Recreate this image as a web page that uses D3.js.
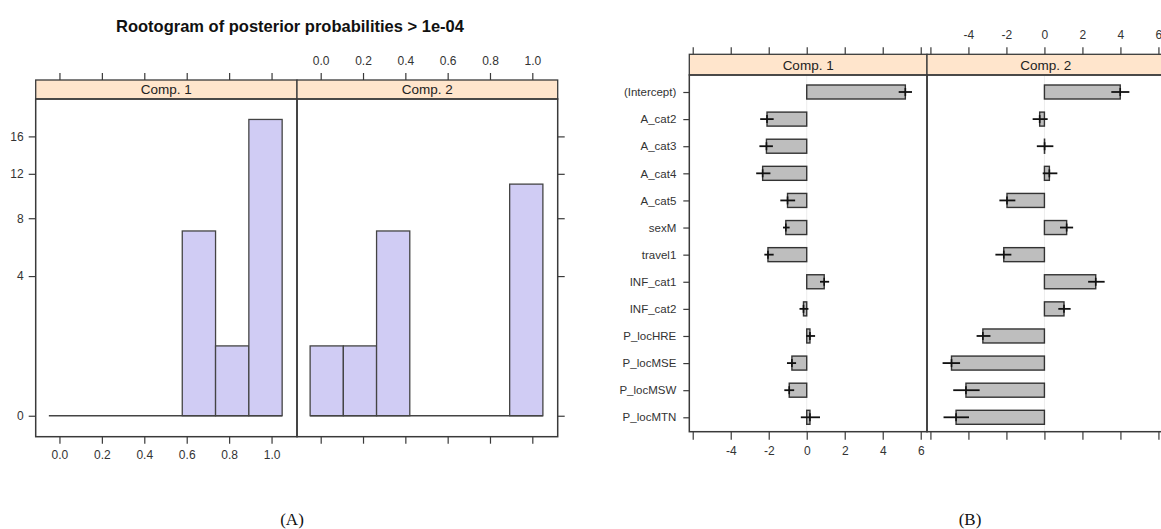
<!DOCTYPE html>
<html>
<head>
<meta charset="utf-8">
<script src="https://cdn.jsdelivr.net/npm/d3@7"></script>
<style>
  body { margin: 0; background: #fff; }
  text { font-family: "Liberation Sans", Arial, sans-serif; fill: #222; }
</style>
</head>
<body>
<script>
/*
 data : rootogram (A) and coefficient plot (B)
*/
var histBreaks = [-0.05, 0.107, 0.264, 0.421, 0.579, 0.736, 0.893, 1.05];
var countsComp1 = [0, 0, 0, 0, 7, 1, 18];
var countsComp2 = [1, 1, 7, 0, 0, 0, 11];
var probTicks = [0, 0.2, 0.4, 0.6, 0.8, 1.0];
var countTicks = [0, 4, 8, 12, 16];

var coefNames = ["(Intercept)", "A_cat2", "A_cat3", "A_cat4", "A_cat5", "sexM", "travel1",
                 "INF_cat1", "INF_cat2", "P_locHRE", "P_locMSE", "P_locMSW", "P_locMTN"];
var est1 = [5.19, -2.09, -2.12, -2.32, -1.01, -1.10, -2.04, 0.92, -0.17, 0.17, -0.78, -0.92, 0.17];
var lo1  = [4.84, -2.45, -2.49, -2.66, -1.39, -1.25, -2.23, 0.70, -0.38, -0.03, -1.04, -1.18, -0.31];
var hi1  = [5.54, -1.74, -1.78, -1.91, -0.61, -0.90, -1.74, 1.18, 0.09, 0.44, -0.56, -0.66, 0.70];
var est2 = [3.99, -0.25, 0.01, 0.26, -1.97, 1.17, -2.14, 2.70, 1.03, -3.24, -4.89, -4.13, -4.65];
var lo2  = [3.52, -0.62, -0.40, -0.09, -2.37, 0.82, -2.58, 2.30, 0.73, -3.57, -5.36, -4.80, -5.31];
var hi2  = [4.47, 0.17, 0.47, 0.68, -1.53, 1.51, -1.74, 3.17, 1.38, -2.84, -4.44, -3.41, -3.97];
var coefTicks = [-6, -4, -2, 0, 2, 4, 6];

var width = 1161,
    height = 529;

var svg = d3.select("body").append("svg")
    .attr("width", width)
    .attr("height", height)
    .style("display", "block");

svg.append("rect").attr("width", width).attr("height", height).attr("fill", "#fff");

var frameCol = "#3a3a3a";

function axis(g, gen, labels) {
  g.call(gen);
  g.select(".domain").remove();
  g.selectAll(".tick line").attr("stroke", frameCol).attr("stroke-width", 1.2);
  g.selectAll(".tick text").style("font-size", "12px").style("fill", "#333");
  if (!labels) g.selectAll(".tick text").remove();
}

/* ---------------- (A) rootogram ---------------- */
var aTop = 99, aBottom = 436.7, aStripTop = 80;
var xA = [
  d3.scaleLinear().domain([-0.112, 1.12]).range([35.7, 297]),
  d3.scaleLinear().domain([-0.112, 1.12]).range([297, 557.7])
];
var yA = d3.scaleSqrt().domain([-0.09, 20.57]).range([aBottom, aTop]);

svg.append("text")
    .attr("x", 290).attr("y", 32)
    .attr("text-anchor", "middle")
    .style("font-size", "16.5px").style("font-weight", "bold")
    .style("fill", "#111")
    .text("Rootogram of posterior probabilities > 1e-04");

[countsComp1, countsComp2].forEach(function(counts, i) {
  var x = xA[i];
  var bins = counts.map(function(c, j) { return {x0: histBreaks[j], x1: histBreaks[j + 1], n: c}; });
  var g = svg.append("g");
  g.selectAll("rect")
    .data(bins.filter(function(d) { return d.n > 0; }))
    .enter().append("rect")
      .attr("x", function(d) { return x(d.x0); })
      .attr("width", function(d) { return x(d.x1) - x(d.x0); })
      .attr("y", function(d) { return yA(d.n); })
      .attr("height", function(d) { return yA(0) - yA(d.n); })
      .attr("fill", "#d0ccf4")
      .attr("stroke", "#444")
      .attr("stroke-width", 1.3);
  // empty bins collapse onto the baseline
  g.append("line")
    .attr("x1", x(histBreaks[0])).attr("x2", x(histBreaks[histBreaks.length - 1]))
    .attr("y1", yA(0)).attr("y2", yA(0))
    .attr("stroke", "#444").attr("stroke-width", 1.3);

  // strip
  svg.append("rect")
    .attr("x", x.range()[0]).attr("y", aStripTop)
    .attr("width", x.range()[1] - x.range()[0]).attr("height", aTop - aStripTop)
    .attr("fill", "#ffe5cc").attr("stroke", frameCol).attr("stroke-width", 1.3);
  svg.append("text")
    .attr("x", (x.range()[0] + x.range()[1]) / 2).attr("y", aTop - 5)
    .attr("text-anchor", "middle").style("font-size", "13.5px")
    .text("Comp. " + (i + 1));
  // frame
  svg.append("rect")
    .attr("x", x.range()[0]).attr("y", aTop)
    .attr("width", x.range()[1] - x.range()[0]).attr("height", aBottom - aTop)
    .attr("fill", "none").attr("stroke", frameCol).attr("stroke-width", 1.5);
});

axis(svg.append("g").attr("transform", "translate(0," + aStripTop + ")"),
  d3.axisTop(xA[0]).tickValues(probTicks).tickSize(7), false);
axis(svg.append("g").attr("transform", "translate(0," + aStripTop + ")"),
  d3.axisTop(xA[1]).tickValues(probTicks).tickSize(7).tickPadding(8).tickFormat(d3.format(".1f")), true);
axis(svg.append("g").attr("transform", "translate(0," + aBottom + ")"),
  d3.axisBottom(xA[0]).tickValues(probTicks).tickSize(7).tickPadding(7).tickFormat(d3.format(".1f")), true);
axis(svg.append("g").attr("transform", "translate(0," + aBottom + ")"),
  d3.axisBottom(xA[1]).tickValues(probTicks).tickSize(7), false);
axis(svg.append("g").attr("transform", "translate(35.7,0)"),
  d3.axisLeft(yA).tickValues(countTicks).tickSize(7).tickPadding(5), true);
axis(svg.append("g").attr("transform", "translate(557.7,0)"),
  d3.axisRight(yA).tickValues(countTicks).tickSize(7), false);

/* ---------------- (B) coefficients ---------------- */
var bTop = 75, bBottom = 431.7, bStripTop = 54.3;
var xB = [
  d3.scaleLinear().domain([-6.18, 6.33]).range([689.3, 927]),
  d3.scaleLinear().domain([-6.18, 6.33]).range([927, 1164.7])
];
var yB = d3.scalePoint().domain(coefNames).range([92, 417.3]);
var barH = 14;

[[est1, lo1, hi1], [est2, lo2, hi2]].forEach(function(s, i) {
  var x = xB[i];
  var rows = coefNames.map(function(n, j) { return {name: n, est: s[0][j], lo: s[1][j], hi: s[2][j]}; });
  var g = svg.append("g");

  g.append("line")
    .attr("x1", x(0)).attr("x2", x(0)).attr("y1", bTop).attr("y2", bBottom)
    .attr("stroke", "#ececec").attr("stroke-width", 1);

  g.selectAll("rect.bar")
    .data(rows)
    .enter().append("rect")
      .attr("class", "bar")
      .attr("x", function(d) { return Math.min(x(0), x(d.est)); })
      .attr("width", function(d) { return Math.abs(x(d.est) - x(0)); })
      .attr("y", function(d) { return yB(d.name) - barH / 2; })
      .attr("height", barH)
      .attr("fill", "#bebebe")
      .attr("stroke", "#333")
      .attr("stroke-width", 1.4);

  g.selectAll("line.ci")
    .data(rows)
    .enter().append("line")
      .attr("class", "ci")
      .attr("x1", function(d) { return x(d.lo); })
      .attr("x2", function(d) { return x(d.hi); })
      .attr("y1", function(d) { return yB(d.name); })
      .attr("y2", function(d) { return yB(d.name); })
      .attr("stroke", "#111").attr("stroke-width", 1.8);

  g.selectAll("line.mid")
    .data(rows)
    .enter().append("line")
      .attr("class", "mid")
      .attr("x1", function(d) { return x(d.est); })
      .attr("x2", function(d) { return x(d.est); })
      .attr("y1", function(d) { return yB(d.name) - 4; })
      .attr("y2", function(d) { return yB(d.name) + 4; })
      .attr("stroke", "#111").attr("stroke-width", 1.6);

  svg.append("rect")
    .attr("x", x.range()[0]).attr("y", bStripTop)
    .attr("width", x.range()[1] - x.range()[0]).attr("height", bTop - bStripTop)
    .attr("fill", "#ffe5cc").attr("stroke", frameCol).attr("stroke-width", 1.3);
  svg.append("text")
    .attr("x", (x.range()[0] + x.range()[1]) / 2).attr("y", bTop - 5)
    .attr("text-anchor", "middle").style("font-size", "13.5px")
    .text("Comp. " + (i + 1));
  svg.append("rect")
    .attr("x", x.range()[0]).attr("y", bTop)
    .attr("width", x.range()[1] - x.range()[0]).attr("height", bBottom - bTop)
    .attr("fill", "none").attr("stroke", frameCol).attr("stroke-width", 1.5);
});

// plain hyphen minus, and no label for the outermost tick
var fmtB = function(d) { return d === -6 ? "" : String(d); };
axis(svg.append("g").attr("transform", "translate(0," + bStripTop + ")"),
  d3.axisTop(xB[0]).tickValues(coefTicks).tickSize(7), false);
axis(svg.append("g").attr("transform", "translate(0," + bStripTop + ")"),
  d3.axisTop(xB[1]).tickValues(coefTicks).tickSize(7).tickPadding(8).tickFormat(fmtB), true);
axis(svg.append("g").attr("transform", "translate(0," + bBottom + ")"),
  d3.axisBottom(xB[0]).tickValues(coefTicks).tickSize(8).tickPadding(7).tickFormat(fmtB), true);
axis(svg.append("g").attr("transform", "translate(0," + bBottom + ")"),
  d3.axisBottom(xB[1]).tickValues(coefTicks).tickSize(8), false);
var yAx = svg.append("g").attr("transform", "translate(689.3,0)");
axis(yAx, d3.axisLeft(yB).tickSize(6).tickPadding(7), true);
yAx.selectAll(".tick text").style("font-size", "11.5px");

/* panel captions */
svg.append("text").attr("x", 292).attr("y", 525)
    .attr("text-anchor", "middle")
    .style("font-family", "'Liberation Serif', 'DejaVu Serif', serif")
    .style("font-size", "17px").style("fill", "#111")
    .text("(A)");
svg.append("text").attr("x", 970).attr("y", 525)
    .attr("text-anchor", "middle")
    .style("font-family", "'Liberation Serif', 'DejaVu Serif', serif")
    .style("font-size", "17px").style("fill", "#111")
    .text("(B)");
</script>
</body>
</html>
